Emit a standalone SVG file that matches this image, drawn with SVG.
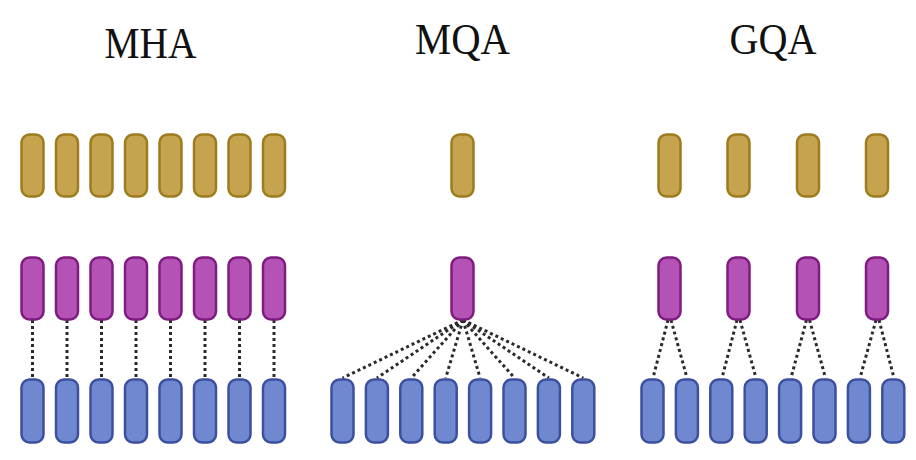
<svg xmlns="http://www.w3.org/2000/svg" width="916" height="460" viewBox="0 0 916 460">
<style>
.t{font-family:"Liberation Serif","Times New Roman",serif;font-size:44px;fill:#111;text-anchor:middle}
.g{fill:#C6A34F;stroke:#9C7C1C;stroke-width:2.5}
.p{fill:#B552B6;stroke:#7E1C80;stroke-width:2.5}
.b{fill:#7088D0;stroke:#3C509E;stroke-width:2.5}
.c{stroke:#2a2a2a;stroke-width:3;stroke-dasharray:3 3;fill:none}
</style>
<defs>
<rect id="gk" class="g" x="-11" y="0" width="22" height="62" rx="8"/>
<rect id="pk" class="p" x="-11" y="0" width="22" height="62" rx="8"/>
<rect id="bk" class="b" x="-11" y="0" width="22" height="63" rx="8"/>
</defs>
<rect width="916" height="460" fill="#fff"/>
<g id="titles">
<text class="t" x="150.5" y="58" textLength="92" lengthAdjust="spacingAndGlyphs">MHA</text>
<text class="t" x="462.5" y="53.5" textLength="95" lengthAdjust="spacingAndGlyphs">MQA</text>
<text class="t" x="773" y="53.5" textLength="87" lengthAdjust="spacingAndGlyphs">GQA</text>
</g>
<g id="connectors">
<!-- MHA -->
<line class="c" x1="32.5" y1="320" x2="32.5" y2="378"/>
<line class="c" x1="67" y1="320" x2="67" y2="378"/>
<line class="c" x1="101.5" y1="320" x2="101.5" y2="378"/>
<line class="c" x1="136" y1="320" x2="136" y2="378"/>
<line class="c" x1="170.5" y1="320" x2="170.5" y2="378"/>
<line class="c" x1="205" y1="320" x2="205" y2="378"/>
<line class="c" x1="239.5" y1="320" x2="239.5" y2="378"/>
<line class="c" x1="274" y1="320" x2="274" y2="378"/>
<!-- MQA -->
<line class="c" x1="463" y1="320" x2="342.5" y2="378"/>
<line class="c" x1="463" y1="320" x2="376.9" y2="378"/>
<line class="c" x1="463" y1="320" x2="411.3" y2="378"/>
<line class="c" x1="463" y1="320" x2="445.7" y2="378"/>
<line class="c" x1="463" y1="320" x2="480.1" y2="378"/>
<line class="c" x1="463" y1="320" x2="514.5" y2="378"/>
<line class="c" x1="463" y1="320" x2="548.9" y2="378"/>
<line class="c" x1="463" y1="320" x2="583.3" y2="378"/>
<!-- GQA -->
<line class="c" x1="668" y1="320" x2="653" y2="378"/>
<line class="c" x1="671" y1="320" x2="687" y2="378"/>
<line class="c" x1="737" y1="320" x2="722" y2="378"/>
<line class="c" x1="740" y1="320" x2="756" y2="378"/>
<line class="c" x1="806.5" y1="320" x2="791" y2="378"/>
<line class="c" x1="809.5" y1="320" x2="825.5" y2="378"/>
<line class="c" x1="876" y1="320" x2="860" y2="378"/>
<line class="c" x1="879" y1="320" x2="894" y2="378"/>
</g>
<g id="mha">
<g id="mha-q"><use href="#gk" x="32.5" y="134.5"/><use href="#gk" x="67" y="134.5"/><use href="#gk" x="101.5" y="134.5"/><use href="#gk" x="136" y="134.5"/><use href="#gk" x="170.5" y="134.5"/><use href="#gk" x="205" y="134.5"/><use href="#gk" x="239.5" y="134.5"/><use href="#gk" x="274" y="134.5"/></g>
<g id="mha-k"><use href="#pk" x="32.5" y="257.5"/><use href="#pk" x="67" y="257.5"/><use href="#pk" x="101.5" y="257.5"/><use href="#pk" x="136" y="257.5"/><use href="#pk" x="170.5" y="257.5"/><use href="#pk" x="205" y="257.5"/><use href="#pk" x="239.5" y="257.5"/><use href="#pk" x="274" y="257.5"/></g>
<g id="mha-v"><use href="#bk" x="32.5" y="379.5"/><use href="#bk" x="67" y="379.5"/><use href="#bk" x="101.5" y="379.5"/><use href="#bk" x="136" y="379.5"/><use href="#bk" x="170.5" y="379.5"/><use href="#bk" x="205" y="379.5"/><use href="#bk" x="239.5" y="379.5"/><use href="#bk" x="274" y="379.5"/></g>
</g>
<g id="mqa">
<g id="mqa-q"><use href="#gk" x="462.5" y="134.5"/></g>
<g id="mqa-k"><use href="#pk" x="462.5" y="257.5"/></g>
<g id="mqa-v"><use href="#bk" x="342.5" y="379.5"/><use href="#bk" x="376.9" y="379.5"/><use href="#bk" x="411.3" y="379.5"/><use href="#bk" x="445.7" y="379.5"/><use href="#bk" x="480.1" y="379.5"/><use href="#bk" x="514.5" y="379.5"/><use href="#bk" x="548.9" y="379.5"/><use href="#bk" x="583.3" y="379.5"/></g>
</g>
<g id="gqa">
<g id="gqa-q"><use href="#gk" x="669.5" y="134.5"/><use href="#gk" x="738.5" y="134.5"/><use href="#gk" x="808" y="134.5"/><use href="#gk" x="877" y="134.5"/></g>
<g id="gqa-k"><use href="#pk" x="669.5" y="257.5"/><use href="#pk" x="738.5" y="257.5"/><use href="#pk" x="808" y="257.5"/><use href="#pk" x="877" y="257.5"/></g>
<g id="gqa-v"><use href="#bk" x="652.5" y="379.5"/><use href="#bk" x="686.9" y="379.5"/><use href="#bk" x="721.3" y="379.5"/><use href="#bk" x="755.7" y="379.5"/><use href="#bk" x="790.1" y="379.5"/><use href="#bk" x="824.5" y="379.5"/><use href="#bk" x="858.9" y="379.5"/><use href="#bk" x="893.3" y="379.5"/></g>
</g>
</svg>
